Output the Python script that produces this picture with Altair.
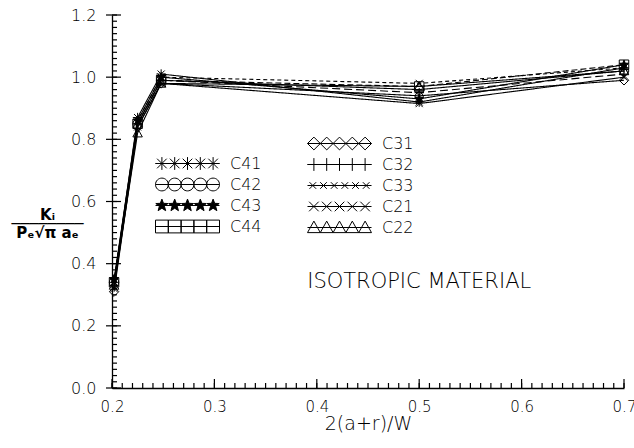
import math
import altair as alt
import pandas as pd

# ---------------- data ----------------
x_vals = [0.202, 0.225, 0.248, 0.5, 0.7]
series_names = ["C41", "C42", "C43", "C44", "C31", "C32", "C33", "C21", "C22"]
C41 = [0.34, 0.87, 1.01, 0.92, 1.03]
C42 = [0.34, 0.85, 0.99, 0.96, 1.02]
C43 = [0.35, 0.86, 1.00, 0.93, 1.04]
C44 = [0.34, 0.85, 0.99, 0.97, 1.04]
C31 = [0.31, 0.84, 0.98, 0.94, 0.99]
C32 = [0.33, 0.85, 0.99, 0.95, 1.01]
C33 = [0.32, 0.84, 0.98, 0.915, 1.00]
C21 = [0.34, 0.86, 1.00, 0.98, 1.03]
C22 = [0.33, 0.82, 0.98, 0.97, 1.02]
all_vals = [C41, C42, C43, C44, C31, C32, C33, C21, C22]

x_ticks = [0.2, 0.3, 0.4, 0.5, 0.6, 0.7]
y_ticks = [0.0, 0.2, 0.4, 0.6, 0.8, 1.0, 1.2]
x_minor = [round(0.2 + 0.01 * i, 2) for i in range(51)]
y_minor = [round(0.02 * i, 2) for i in range(61)]

group_a = ["C41", "C42", "C43", "C44"]
group_b = ["C31", "C32", "C33", "C21", "C22"]

note_text = ["ISOTROPIC  MATERIAL"]
note_x = [0.5]
note_y = [0.34]

rows = []
for name, vals in zip(series_names, all_vals):
    for xv, yv in zip(x_vals, vals):
        rows.append({"series": name, "x": xv, "y": yv})
df = pd.DataFrame(rows)
note_df = pd.DataFrame({"t": note_text, "x": note_x, "y": note_y})
xmaj_df = pd.DataFrame({"v": x_ticks})
xmin_df = pd.DataFrame({"v": x_minor})
ymaj_df = pd.DataFrame({"v": y_ticks})
ymin_df = pd.DataFrame({"v": y_minor})

# ---------------- symbol paths ----------------
def f(v):
    return f"{v:.3f}"

def p_circle(cx, r):
    return (f"M{f(cx-r)},0A{f(r)},{f(r)} 0 1,0 {f(cx+r)},0"
            f"A{f(r)},{f(r)} 0 1,0 {f(cx-r)},0Z")

def p_square(cx, r):
    return f"M{f(cx-r)},{f(-r)}L{f(cx+r)},{f(-r)}L{f(cx+r)},{f(r)}L{f(cx-r)},{f(r)}Z"

def p_diamond(cx, r):
    return f"M{f(cx)},{f(-r)}L{f(cx+r)},0L{f(cx)},{f(r)}L{f(cx-r)},0Z"

def p_triangle(cx, r):
    return f"M{f(cx)},{f(-r)}L{f(cx+r)},{f(r*0.8)}L{f(cx-r)},{f(r*0.8)}Z"

def p_plus(cx, r):
    return f"M{f(cx-r)},0L{f(cx+r)},0M{f(cx)},{f(-r)}L{f(cx)},{f(r)}"

def p_x(cx, r):
    a = r * 0.75
    return f"M{f(cx-a)},{f(-a)}L{f(cx+a)},{f(a)}M{f(cx-a)},{f(a)}L{f(cx+a)},{f(-a)}"

def p_ast(cx, r):
    return p_plus(cx, r) + p_x(cx, r)

def p_star(cx, r):
    pts = []
    for k in range(10):
        ang = -math.pi / 2 + k * math.pi / 5
        rr = r if k % 2 == 0 else r * 0.42
        pts.append((cx + rr * math.cos(ang), rr * math.sin(ang)))
    return "M" + "L".join(f"{f(a)},{f(b)}" for a, b in pts) + "Z"

shape_fn = {"C41": p_ast, "C42": p_circle, "C43": p_star, "C44": p_square,
            "C31": p_diamond, "C32": p_plus, "C33": p_x, "C21": p_x,
            "C22": p_triangle}

def single(name):
    return shape_fn[name](0, 1)

# legend symbol: symbolSize 256 -> 8 px per path unit; symbol spans x -1..7
def legend_path(name):
    parts = ["M-1,0L7,0"]
    if name == "C33":
        n, r = 6, 0.55
    else:
        n, r = 5, 0.8
    step = 8.0 / n
    for i in range(n):
        parts.append(shape_fn[name](-1 + step / 2 + i * step, r))
    return "".join(parts)

fills = {n: ("black" if n == "C43" else "transparent") for n in series_names}
dashes = {"C41": [1, 0], "C42": [1, 0], "C43": [1, 0], "C44": [6, 3],
          "C31": [1, 0], "C32": [8, 4], "C33": [1, 0], "C21": [4, 3],
          "C22": [1, 0]}

FONT = "DejaVu Sans"
W, H = 512, 373


def xs():
    return alt.Scale(domain=[0.2, 0.7], nice=False, zero=False)


def ys():
    return alt.Scale(domain=[0.0, 1.2], nice=False, zero=False)


def leg(lx, ly):
    return alt.Legend(orient="none", legendX=lx, legendY=ly, title=None,
                      symbolSize=256, symbolStrokeColor="black",
                      symbolStrokeWidth=1, symbolOpacity=1,
                      labelFont=FONT, labelFontSize=16, labelFontWeight=200,
                      labelColor="black", labelOffset=58, rowPadding=4,
                      padding=0)


base = alt.Chart(df)

lines = base.mark_line(color="black", strokeWidth=1.1).encode(
    x=alt.X("x:Q", scale=xs(), axis=alt.Axis(
        orient="bottom", values=x_ticks, format=".1f", title="2(a+r)/W",
        ticks=False, grid=False, domainColor="black", domainWidth=1.3,
        labelFont=FONT, labelFontSize=15, labelFontWeight=200, labelColor="black",
        labelPadding=11, labelFlush=False, labelOverlap=False,
        titleFont=FONT, titleFontSize=19, titleFontWeight=200, titleColor="black",
        titlePadding=0)),
    y=alt.Y("y:Q", scale=ys(), axis=alt.Axis(
        orient="left", values=y_ticks, format=".1f",
        title=["K\u1d62", "\u2500" * 8, "P\u2091\u221a\u03c0 a\u2091"],
        ticks=False, grid=False, domainColor="black", domainWidth=1.3,
        labelFont=FONT, labelFontSize=16, labelFontWeight=200, labelColor="black",
        labelPadding=16, labelOverlap=False,
        titleAngle=0, titleX=-65, titleY=204, titleAlign="center",
        titleBaseline="alphabetic", titleFont=FONT, titleFontSize=15,
        titleFontWeight="bold", titleColor="black", titleLineHeight=9)),
    detail="series:N",
    strokeDash=alt.StrokeDash("series:N", scale=alt.Scale(
        domain=series_names, range=[dashes[n] for n in series_names]), legend=None),
)

points = base.mark_point(filled=True, stroke="black", strokeWidth=1, opacity=1, size=90).encode(
    x=alt.X("x:Q", scale=xs(), axis=None),
    y=alt.Y("y:Q", scale=ys(), axis=None),
    shape=alt.Shape("series:N", scale=alt.Scale(
        domain=series_names, range=[single(n) for n in series_names]), legend=None),
    fill=alt.Fill("series:N", scale=alt.Scale(
        domain=series_names, range=[fills[n] for n in series_names]), legend=None),
)

legend_a = base.transform_filter(
    alt.FieldOneOfPredicate(field="series", oneOf=group_a)
).mark_point(filled=True, strokeWidth=1, opacity=0).encode(
    x=alt.X("x:Q", scale=xs(), axis=None),
    y=alt.Y("y:Q", scale=ys(), axis=None),
    shape=alt.Shape("series:N", scale=alt.Scale(
        domain=group_a, range=[legend_path(n) for n in group_a]), legend=leg(43, 140)),
    fill=alt.Fill("series:N", scale=alt.Scale(
        domain=group_a, range=[fills[n] for n in group_a]), legend=leg(43, 140)),
    stroke=alt.Stroke("series:N", scale=alt.Scale(
        domain=group_a, range=["black"] * len(group_a)), legend=leg(43, 140)),
)

legend_b = base.transform_filter(
    alt.FieldOneOfPredicate(field="series", oneOf=group_b)
).mark_point(filled=False, stroke="black", strokeWidth=1, opacity=0).encode(
    x=alt.X("x:Q", scale=xs(), axis=None),
    y=alt.Y("y:Q", scale=ys(), axis=None),
    shape=alt.Shape("series:N", scale=alt.Scale(
        domain=group_b, range=[legend_path(n) for n in group_b]), legend=leg(195, 120)),
)

note = alt.Chart(note_df).mark_text(
    font=FONT, fontSize=21, fontWeight=200, color="black", align="center",
    baseline="middle"
).encode(
    x=alt.X("x:Q", scale=xs(), axis=None),
    y=alt.Y("y:Q", scale=ys(), axis=None),
    text="t:N",
)

# tick marks along the axes (inward minor and major ticks)
tick_style = dict(color="black", strokeWidth=1.2, opacity=1)
x_major = alt.Chart(xmaj_df).mark_rule(**tick_style).encode(
    x=alt.X("v:Q", scale=xs(), axis=None), y=alt.value(H), y2=alt.value(H - 9))
x_minor_r = alt.Chart(xmin_df).mark_rule(**tick_style).encode(
    x=alt.X("v:Q", scale=xs(), axis=None), y=alt.value(H), y2=alt.value(H - 5))
y_major = alt.Chart(ymaj_df).mark_rule(**tick_style).encode(
    y=alt.Y("v:Q", scale=ys(), axis=None), x=alt.value(-6), x2=alt.value(9))
y_minor_r = alt.Chart(ymin_df).mark_rule(**tick_style).encode(
    y=alt.Y("v:Q", scale=ys(), axis=None), x=alt.value(0), x2=alt.value(5))

chart = alt.layer(lines, points, legend_a, legend_b, note,
                  x_major, x_minor_r, y_major, y_minor_r).resolve_scale(
    x="independent", y="independent",
    shape="independent", fill="independent", stroke="independent",
    strokeDash="independent"
).resolve_axis(x="independent", y="independent").properties(
    width=W, height=H, autosize="none",
    padding={"left": 112, "top": 15, "right": 10, "bottom": 60},
    background="white",
).configure_view(stroke=None)

chart.save("out.html", embed_options={"renderer": "svg", "actions": False})
